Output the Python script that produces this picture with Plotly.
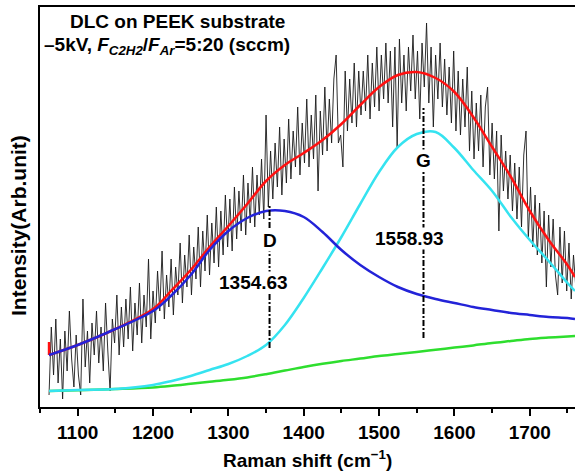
import numpy as np
import plotly.graph_objects as go

# ---------------- data ----------------
RAW_START = 1062
RAW_STEP = 3
raw_intensity = [
    3, 20, 8, 22, 6, 17, 2, 19, 9, 24, 12, 5, 18, 8, 3, 27, 10, 19, 6, 21,
    13, 24, 11, 20, 9, 26, 14, 4, 22, 16, 28, 13, 25, 15, 27, 17, 30, 14, 26, 18,
    31, 16, 28, 20, 37, 17, 29,
    21, 34, 24, 39, 22, 33, 25, 37, 23, 35, 28, 41, 26, 38, 30, 43, 28, 40, 32, 45,
    30, 44, 34, 48, 33, 46, 36, 50, 35, 49, 38, 53, 40,
    52, 39, 55, 42, 54, 44, 58, 43, 56, 46, 60, 45, 58, 48, 62, 47, 73, 50, 64, 52,
    66, 55, 70, 53, 67, 56, 72, 57, 69, 60, 75, 58, 71,
    61, 77, 60, 73, 62, 78, 54, 74, 63, 80, 64, 77, 66, 82, 88, 66, 68, 60, 84, 69,
    82, 71, 86, 70, 84, 73, 84, 74, 88, 72, 86, 75, 90,
    74, 88, 77, 91, 76, 89, 70, 90, 65, 92, 76, 88, 74, 90, 79, 93, 77, 89, 72, 91,
    80, 96, 76, 90, 70, 88, 77, 91, 75, 87, 73, 85, 71,
    89, 69, 84, 68, 82, 70, 85, 64, 79, 62, 76, 64, 78, 60, 75, 80, 58, 71, 57, 69,
    44, 68, 54, 64, 52, 63, 49, 61, 47, 60, 45, 63, 69,
    42, 55, 40, 53, 38, 51, 36, 49, 30, 48, 35, 47, 33, 28, 45, 31, 44, 29, 41, 27,
    38, 30,
]
raw_shift = [RAW_START + RAW_STEP * i for i in range(len(raw_intensity))]

fit_shift = [1062, 1100, 1150, 1200, 1225, 1250, 1275, 1300, 1325, 1350, 1375, 1400,
             1425, 1450, 1475, 1500, 1525, 1550, 1575, 1600, 1625, 1650, 1675, 1700,
             1725, 1750, 1760]
fit_sum = [13, 15.5, 19.5, 24.5, 29.25, 34.25, 40, 45.25, 50.75, 56.5, 60.5, 63.5,
           66.75, 70.75, 75.5, 80, 83, 83.75, 82.25, 78.75, 72.5, 65, 57.5, 49,
           41.75, 35.5, 32.5]
fit_sum_start = 16.25
peak_d = [13, 15.5, 19.5, 24, 28, 33, 39.25, 44, 47.25, 49, 49, 47.5,
          43.75, 39.25, 35.5, 32.5, 30, 28.25, 27, 26, 25, 24.25, 23.5, 23,
          22.5, 22.25, 22]
peak_g = [4, 4.25, 4.5, 5.5, 6.5, 7.75, 9.25, 10.75, 12.75, 15.5, 20.5, 27.25,
          34.75, 42.5, 50.75, 58.75, 65, 68.25, 68.75, 64.75, 59.25, 54, 47.5, 41.75,
          36.5, 31, 29]
baseline = [4, 4.2, 4.5, 4.9, 5.3, 5.8, 6.3, 6.8, 7.4, 8.2, 9.1, 10,
            10.8, 11.5, 12.1, 12.75, 13.25, 13.75, 14.3, 14.85, 15.4, 16, 16.5, 17,
            17.35, 17.65, 17.75]

D_POS = 1354.63
G_POS = 1558.93
d_marker_y = [14.75, 50.5]
g_marker_y = [17.25, 74.75]

x_ticks = [1100, 1200, 1300, 1400, 1500, 1600, 1700]

# ---------------- figure ----------------
FONT = "Liberation Sans, Arial, sans-serif"
fig = go.Figure()

fig.add_trace(go.Scatter(x=raw_shift, y=raw_intensity, mode="lines",
                         line=dict(color="#1a1a1a", width=0.9), hoverinfo="skip"))
fig.add_trace(go.Scatter(x=fit_shift, y=fit_sum, mode="lines", line_shape="spline",
                         line=dict(color="#ff1010", width=2.5)))
fig.add_trace(go.Scatter(x=[fit_shift[0], fit_shift[0]], y=[fit_sum_start, fit_sum[0]],
                         mode="lines", line=dict(color="#ff1010", width=2.5)))
fig.add_trace(go.Scatter(x=fit_shift, y=baseline, mode="lines", line_shape="spline",
                         line=dict(color="#2ede2e", width=2.5)))
fig.add_trace(go.Scatter(x=fit_shift, y=peak_g, mode="lines", line_shape="spline",
                         line=dict(color="#35e3f0", width=2.5)))
fig.add_trace(go.Scatter(x=fit_shift, y=peak_d, mode="lines", line_shape="spline",
                         line=dict(color="#2323d8", width=2.5)))
fig.add_trace(go.Scatter(x=[D_POS, D_POS], y=d_marker_y, mode="lines",
                         line=dict(color="black", width=2, dash="6px,2px,2px,2px")))
fig.add_trace(go.Scatter(x=[G_POS, G_POS], y=g_marker_y, mode="lines",
                         line=dict(color="black", width=2, dash="6px,2px,2px,2px")))

ann_font = dict(family=FONT, size=19, color="black", weight="bold")
annotations = [
    dict(x=D_POS, y=41.75, xref="x", yref="y", text="D", showarrow=False,
         font=ann_font, bgcolor="white", borderpad=0),
    dict(x=1333.3, y=31.25, xref="x", yref="y", text="%.2f" % D_POS, showarrow=False,
         font=ann_font, bgcolor="white", borderpad=0),
    dict(x=G_POS, y=61.75, xref="x", yref="y", text="G", showarrow=False,
         font=ann_font, bgcolor="white", borderpad=0),
    dict(x=1541, y=42.25, xref="x", yref="y", text="%.2f" % G_POS, showarrow=False,
         font=ann_font, bgcolor="white", borderpad=0),
    dict(x=0.0523, y=0.965, xref="paper", yref="paper", xanchor="left", yanchor="middle",
         text="DLC on PEEK substrate", showarrow=False, font=ann_font),
    dict(x=0.0037, y=0.9025, xref="paper", yref="paper", xanchor="left", yanchor="middle",
         text="\u20135kV, <i>F<sub>C2H2</sub></i>/<i>F<sub>Ar</sub></i>=5:20 (sccm)",
         showarrow=False, font=ann_font),
    dict(x=0.5, y=-0.1625, xref="paper", yref="paper", xanchor="center", yanchor="bottom",
         text="Raman shift (cm<sup>\u22121</sup>)", showarrow=False, font=ann_font,
         borderpad=0),
    dict(x=-0.0411, y=0.4525, xref="paper", yref="paper", xanchor="center", yanchor="middle",
         text="Intensity(Arb.unit)", textangle=-90, showarrow=False,
         font=dict(family=FONT, size=21, color="black", weight="bold")),
]

fig.update_layout(
    width=575, height=473,
    margin=dict(l=40, r=0, t=7, b=66),
    paper_bgcolor="white", plot_bgcolor="white",
    showlegend=False,
    annotations=annotations,
    font=dict(family=FONT, color="black"),
)
fig.update_xaxes(
    range=[1050, 1760], tickmode="array", tickvals=x_ticks,
    ticktext=[str(v) for v in x_ticks],
    ticks="outside", ticklen=7, tickwidth=1.5, tickcolor="black",
    minor=dict(ticks="outside", ticklen=4, tickwidth=1.5, tickcolor="black", dtick=50, tick0=1050),
    showline=True, linewidth=1.5, linecolor="black", mirror=True,
    showgrid=False, zeroline=False,
    tickfont=dict(family=FONT, size=19, color="black", weight="bold"),
    ticklabelstandoff=0,
)
fig.update_yaxes(
    range=[0, 100], showticklabels=False, ticks="",
    showline=True, linewidth=1.5, linecolor="black", mirror=False,
    showgrid=False, zeroline=False,
)

fig.write_html("out.html")
